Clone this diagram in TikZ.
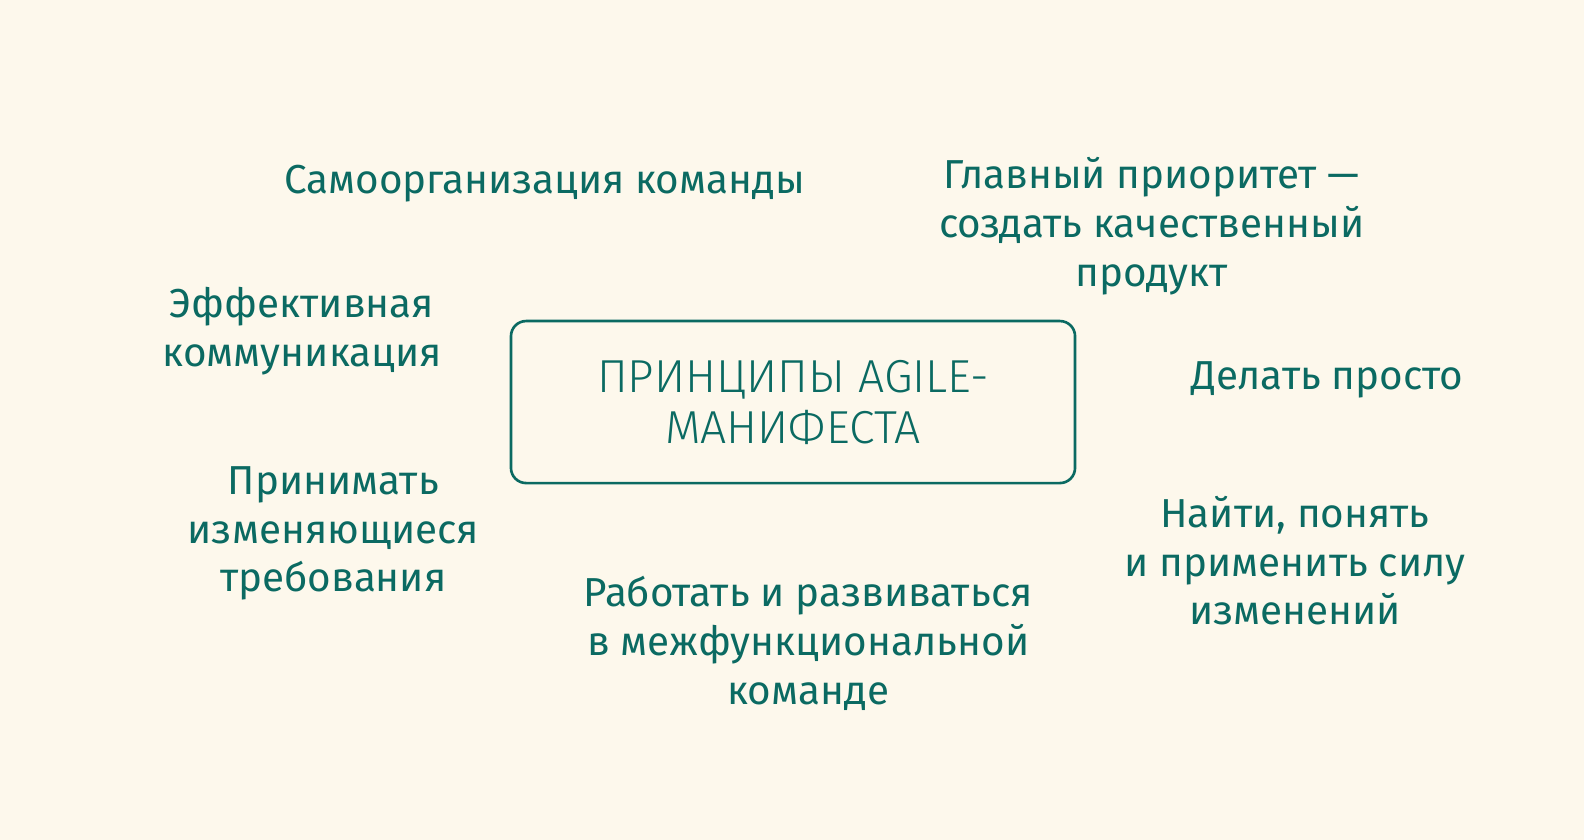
\documentclass[tikz,border=0pt]{standalone}
\usepackage{fontspec}
\setmainfont{Fira Sans}
\newfontfamily\titlefont{Fira Sans Light}
\usetikzlibrary{positioning}

\begin{document}
\begin{tikzpicture}[x=0.010102cm,y=-0.010102cm,
  principle/.style={text=agile_teal, align=center, inner sep=0pt,
    font=\fontsize{11.5}{13.9}\selectfont},
  titlebox/.style={draw=agile_teal, line width=0.75pt, rounded corners=4.3pt,
    minimum width=5.64cm, minimum height=1.62cm, text=agile_teal, align=center,
    font=\titlefont\fontsize{13.15}{14.5}\selectfont}]

\definecolor{agile_bg}{HTML}{FDF8EC}
\definecolor{agile_teal}{HTML}{0B6A62}

\fill[agile_bg] (0,0) rectangle (1568,831.5);
\useasboundingbox (0,0) rectangle (1568,831.5);

\node[titlebox] (manifest) at (785,398) {ПРИНЦИПЫ AGILE-\\МАНИФЕСТА};

\node[principle] (selforg) at (539,182) {Самоорганизация команды};
\node[principle] (communic) at (299,328) {Эффективная\\коммуникация};
\node[principle] (changes) at (330,528) {Принимать\\изменяющиеся\\требования};
\node[principle] (crossfunc) at (800,637) {Работать и развиваться\\в межфункциональной\\команде};
\node[principle] (priority) at (1140,224) {Главный приоритет —\\создать качественный\\продукт};
\node[principle] (simple) at (1314,376) {Делать просто};
\node[principle] (power) at (1282,555) {Найти, понять\\и применить силу\\изменений};

\end{tikzpicture}
\end{document}
